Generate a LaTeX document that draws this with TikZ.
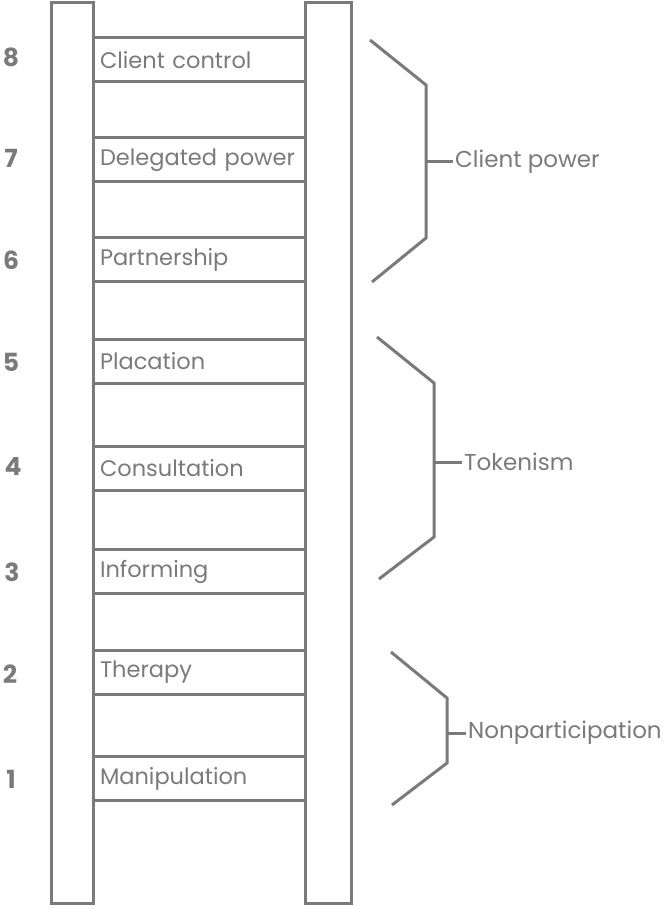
\documentclass[tikz,border=0pt]{standalone}
\usepackage{fontspec}
\setmainfont{Poppins}
\definecolor{laddergray}{HTML}{7A7A7A}
\tikzset{
  rail/.style={draw=laddergray, line width=3pt},
  rung/.style={draw=laddergray, line width=3pt, minimum height=44pt,
    text width=198pt, inner xsep=7pt, align=left, font=\fontsize{22.5}{23}\selectfont},
  num/.style={font=\fontsize{25}{25}\selectfont\bfseries},
  brace/.style={draw=laddergray, line width=3pt},
  group/.style={anchor=west, inner sep=2pt, font=\fontsize{23}{23}\selectfont}
}
\begin{document}
\begin{tikzpicture}[x=1pt, y=-1pt, color=laddergray]
\useasboundingbox (0,0) rectangle (669,909);
% rails
\draw[rail] (51,3) rectangle (93,903);
\draw[rail] (305,3) rectangle (351,903);
% rungs
\node[rung] (r8) at (199,60) {Client control};
\node[rung] (r7) at (199,160) {Delegated power};
\node[rung] (r6) at (199,259.5) {Partnership};
\node[rung] (r5) at (199,361.5) {Placation};
\node[rung] (r4) at (199,468.5) {Consultation};
\node[rung] (r3) at (199,571.5) {Informing};
\node[rung] (r2) at (199,672.5) {Therapy};
\node[rung] (r1) at (199,778.5) {Manipulation};
% numbers
\node[num] (n8) at (11,57) {8};
\node[num] (n7) at (11,158) {7};
\node[num] (n6) at (11,260) {6};
\node[num] (n5) at (11,362) {5};
\node[num] (n4) at (13,466) {4};
\node[num] (n3) at (12,572) {3};
\node[num] (n2) at (10,674) {2};
\node[num] (n1) at (11,779) {1};
% groups
\node[group] (power) at (453,162) {Client power};
\node[group] (token) at (462,462) {Tokenism};
\node[group] (nonpart) at (466,733) {Nonparticipation};
\draw[brace] (370,40) -- (426,85) -- (426,238) -- (372,282);
\draw[brace] (426,162) -- (power.west);
\draw[brace] (377,337) -- (434,383) -- (434,537) -- (379,579);
\draw[brace] (434,462) -- (token.west);
\draw[brace] (391,652) -- (447,698) -- (447,763) -- (392,805);
\draw[brace] (447,733) -- (nonpart.west);
\end{tikzpicture}
\end{document}
